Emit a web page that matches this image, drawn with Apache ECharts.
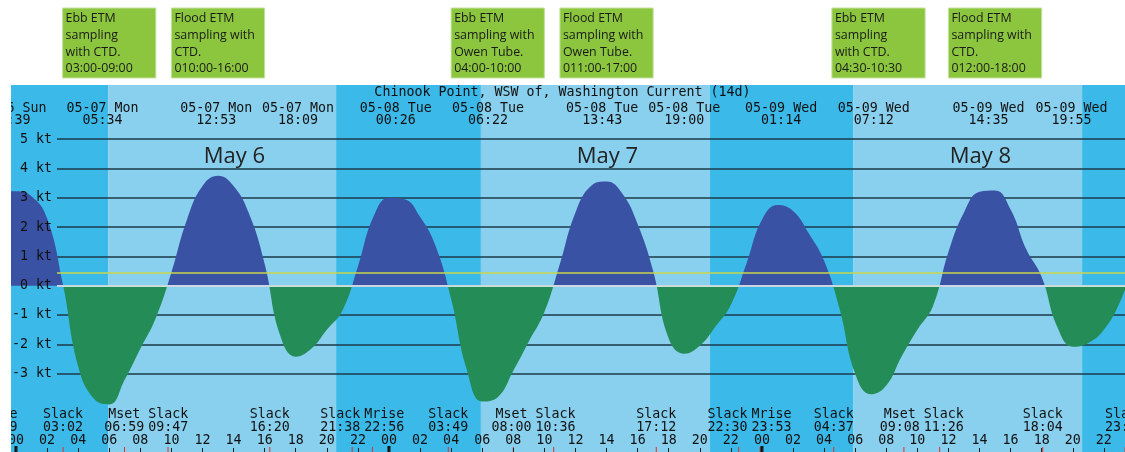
<!DOCTYPE html>
<html style="height: 100%">
<head>
<meta charset="utf-8">
</head>
<body style="height: 100%; margin: 0; background: #fff">
<div id="container" style="width: 1125px; height: 452px"></div>
<script type="text/javascript" src="https://cdn.jsdelivr.net/npm/echarts@6/dist/echarts.min.js"></script>
<script type="text/javascript">
// current speed read hourly, from 05-06 23:00 (hour -1) to 05-10 00:00 (hour 72)
var FLOW_START_HOUR = -1;
var flowKnots = [3.2,
  3.22, 3.05, 2.3, 0.1, -2.75, -3.85, -4.05, -3.2, -2.15, -1.1, 0.45, 2.25,
  3.4, 3.75, 3.4, 2.45, 0.75, -1.7, -2.42, -2.15, -1.5, -0.85, 0.65, 2.35,
  3.0, 2.95, 2.35, 1.35, -0.45, -2.85, -3.95, -3.8, -2.9, -1.9, -0.9, 0.75,
  2.5, 3.4, 3.55, 3.15, 2.1, 0.5, -1.8, -2.32, -2.05, -1.4, -0.65, 0.75,
  2.25, 2.75, 2.55, 1.8, 0.85, -0.8, -3.0, -3.7, -3.4, -2.4, -1.5, -0.7,
  1.15, 2.5, 3.2, 3.25, 2.6, 1.25, 0.3, -1.4, -2.08, -1.95, -1.5, -0.6,
  0.8];

var maxDates = ['05-06 Sun', '05-07 Mon', '05-07 Mon', '05-07 Mon', '05-08 Tue', '05-08 Tue',
  '05-08 Tue', '05-08 Tue', '05-09 Wed', '05-09 Wed', '05-09 Wed', '05-09 Wed'];
var maxTimes = ['23:39', '05:34', '12:53', '18:09', '00:26', '06:22',
  '13:43', '19:00', '01:14', '07:12', '14:35', '19:55'];

var eventDays = [-1, -1, 0, 0, 0, 0, 0, 0, 1, 1, 1, 1, 1, 1, 2, 2, 2, 2, 2];
var eventNames = ['Slack', 'Mrise', 'Slack', 'Mset', 'Slack', 'Slack', 'Slack', 'Mrise',
  'Slack', 'Mset', 'Slack', 'Slack', 'Slack', 'Mrise', 'Slack', 'Mset', 'Slack', 'Slack', 'Slack'];
var eventTimes = ['20:48', '21:59', '03:02', '06:59', '09:47', '16:20', '21:38', '22:56',
  '03:49', '08:00', '10:36', '17:12', '22:30', '23:53', '04:37', '09:08', '11:26', '18:04', '23:22'];

var sunriseTimes = ['05:56', '05:55', '05:52'];
var sunsetTimes = ['20:36', '20:39', '20:36'];
var dayTitles = ['May 6', 'May 7', 'May 8'];

var boxDays = [0, 0, 1, 1, 2, 2];
var boxStarts = ['03:00', '10:00', '04:00', '11:00', '04:30', '12:00'];
var boxEnds = ['09:00', '16:00', '10:00', '17:00', '10:30', '18:00'];
var boxTexts = [
  'Ebb ETM\nsampling\nwith CTD.\n03:00-09:00',
  'Flood ETM\nsampling with\nCTD.\n010:00-16:00',
  'Ebb ETM\nsampling with\nOwen Tube.\n04:00-10:00',
  'Flood ETM\nsampling with\nOwen Tube.\n011:00-17:00',
  'Ebb ETM\nsampling\nwith CTD.\n04:30-10:30',
  'Flood ETM\nsampling with\nCTD.\n012:00-18:00'
];

var hourTicks = [];
for (var h = 0; h <= 70; h += 2) hourTicks.push(h);

var X_MIN = -0.32, X_MAX = 71.36;
var MONO = '"DejaVu Sans Mono", monospace';
var DARK = '#3bb9e9', LIGHT = '#88d0ee';

function hourOf(day, hhmm) {
  var p = hhmm.split(':');
  return day * 24 + (+p[0]) + (+p[1]) / 60;
}
function pad2(n) { return (n < 10 ? '0' : '') + n; }

// night / day bands
var bands = [];
var prev = X_MIN;
for (var d = 0; d < sunriseTimes.length; d++) {
  var rise = hourOf(d, sunriseTimes[d]);
  var set = hourOf(d, sunsetTimes[d]);
  bands.push([prev, rise, 0]);
  bands.push([rise, set, 1]);
  prev = set;
}
bands.push([prev, X_MAX, 0]);

var flowData = flowKnots.map(function (v, i) { return [FLOW_START_HOUR + i, v]; });
var maxData = maxTimes.map(function (t, i) {
  var day = parseInt(maxDates[i].slice(3, 5), 10) - 7;
  return [hourOf(day, t), 0, i];
});
var eventHours = eventTimes.map(function (t, i) { return hourOf(eventDays[i], t); });
var eventData = eventHours.map(function (t, i) { return [t, 0, i]; });
var titleData = dayTitles.map(function (s, i) { return [i * 24 + 14.05, 0, i]; });
var boxData = boxStarts.map(function (s, i) {
  return [hourOf(boxDays[i], s), hourOf(boxDays[i], boxEnds[i]), i];
});

var dom = document.getElementById('container');
var myChart = echarts.init(dom);

var option = {
  animation: false,
  title: {
    text: 'Chinook Point, WSW of, Washington Current (14d)',
    left: 'center',
    top: 86.5,
    padding: 0,
    textStyle: { fontFamily: MONO, fontSize: 13.3, fontWeight: 'normal', color: '#111' }
  },
  grid: [
    { left: 11, right: 0, top: 85, bottom: 0 },
    { left: 57, right: 0, top: 139.05, bottom: 78.3 }
  ],
  xAxis: [
    {
      gridIndex: 0, type: 'value', min: X_MIN, max: X_MAX, z: 6,
      axisLine: { show: false, onZero: false },
      splitLine: { show: false },
      axisTick: { inside: true, length: 4, customValues: hourTicks, lineStyle: { color: '#222' } },
      axisLabel: {
        inside: true, margin: 5, customValues: hourTicks,
        fontFamily: MONO, fontSize: 13.3, color: '#111',
        formatter: function (v) { return pad2(Math.round(v) % 24); }
      }
    },
    { gridIndex: 1, type: 'value', min: 0, max: 1, show: false }
  ],
  yAxis: [
    { gridIndex: 0, type: 'value', min: -5.67, max: 6.843, show: false },
    {
      gridIndex: 1, type: 'value', position: 'left', min: -3, max: 5, interval: 1, z: 1,
      axisLine: { show: false }, axisTick: { show: false }, axisLabel: { show: false },
      splitLine: { show: true, lineStyle: { color: '#1d3a48', width: 1.5 } }
    },
    {
      gridIndex: 1, type: 'value', position: 'left', offset: 0, min: -3, max: 5, interval: 1, z: 6,
      axisLine: { show: false }, axisTick: { show: false }, splitLine: { show: false },
      axisLabel: { margin: 5, formatter: '{value} kt', fontFamily: MONO, fontSize: 13.3, color: '#111' }
    }
  ],
  visualMap: {
    show: false, type: 'piecewise', seriesIndex: 1, dimension: 1,
    pieces: [
      { lt: 0, color: '#248c57' },
      { gte: 0, lte: 20, color: '#3a52a3' },
      { gt: 20, color: '#3a52a3' }
    ]
  },
  graphic: [
    { type: 'rect', left: 0, top: 0, z: 100, shape: { width: 11, height: 452 }, style: { fill: '#fff' } }
  ],
  series: [
    {
      // day / night background
      type: 'custom', xAxisIndex: 0, yAxisIndex: 0, z: 0, silent: true, clip: true,
      encode: { x: [0, 1], y: 2 },
      data: bands,
      renderItem: function (params, api) {
        var cs = params.coordSys;
        var x0 = api.coord([api.value(0), 0])[0];
        var x1 = api.coord([api.value(1), 0])[0];
        return {
          type: 'rect',
          shape: { x: x0, y: cs.y, width: x1 - x0, height: cs.height },
          style: { fill: api.value(2) ? LIGHT : DARK }
        };
      }
    },
    {
      name: 'Current', type: 'line', xAxisIndex: 0, yAxisIndex: 0, z: 3,
      data: flowData, smooth: 0.45, showSymbol: false, symbol: 'none',
      lineStyle: { opacity: 0 },
      areaStyle: { opacity: 1, origin: 'auto' }
    },
    {
      // slack line and threshold line
      type: 'line', xAxisIndex: 1, yAxisIndex: 1, z: 4, data: [], silent: true,
      markLine: {
        symbol: 'none', silent: true, label: { show: false },
        data: [
          { yAxis: 0, lineStyle: { color: '#ffffff', width: 1.5, type: 'solid' } },
          { yAxis: 0.45, lineStyle: { color: '#c8d64a', width: 1.5, type: 'solid' } }
        ]
      }
    },
    {
      // max current labels
      type: 'custom', xAxisIndex: 0, yAxisIndex: 0, z: 5, silent: true, clip: true,
      encode: { x: 0, y: 1 },
      data: maxData,
      renderItem: function (params, api) {
        var i = api.value(2);
        var x = api.coord([api.value(0), 0])[0];
        return {
          type: 'text', x: x, y: 114.5,
          style: {
            text: maxDates[i] + '\n' + maxTimes[i], font: '13.3px ' + MONO, fill: '#111',
            textAlign: 'center', textVerticalAlign: 'middle', lineHeight: 12.5
          }
        };
      }
    },
    {
      // slack / moon labels
      type: 'custom', xAxisIndex: 0, yAxisIndex: 0, z: 5, silent: true, clip: true,
      encode: { x: 0, y: 1 },
      data: eventData,
      renderItem: function (params, api) {
        var i = api.value(2);
        var x = api.coord([eventHours[i], 0])[0];
        var shift = 0, gap = 44;
        if (i > 0) {
          var dl = x - api.coord([eventHours[i - 1], 0])[0];
          if (dl < gap) shift += (gap - dl) / 2;
        }
        if (i < eventHours.length - 1) {
          var dr = api.coord([eventHours[i + 1], 0])[0] - x;
          if (dr < gap) shift -= (gap - dr) / 2;
        }
        return {
          type: 'group',
          children: [
            {
              type: 'text', x: x + shift, y: 421,
              style: {
                text: eventNames[i] + '\n' + eventTimes[i], font: '13.3px ' + MONO, fill: '#111',
                textAlign: 'center', textVerticalAlign: 'middle', lineHeight: 13
              }
            },
            {
              type: 'line',
              shape: { x1: x, y1: 447, x2: x, y2: 452 },
              style: { stroke: '#e0302a', lineWidth: 1 }
            }
          ]
        };
      }
    },
    {
      // day names and midnight marks
      type: 'custom', xAxisIndex: 0, yAxisIndex: 0, z: 5, silent: true, clip: true,
      encode: { x: 0, y: 1 },
      data: titleData,
      renderItem: function (params, api) {
        var i = api.value(2);
        var x = api.coord([api.value(0), 0])[0];
        var xm = api.coord([i * 24, 0])[0];
        return {
          type: 'group',
          children: [
            {
              type: 'text', x: x, y: 157,
              style: {
                text: dayTitles[i], font: '22px "Open Sans"', fill: '#222',
                textAlign: 'center', textVerticalAlign: 'middle'
              }
            },
            {
              type: 'rect',
              shape: { x: xm - 1.5, y: 446, width: 3, height: 6 },
              style: { fill: '#111' }
            }
          ]
        };
      }
    },
    {
      // sampling boxes above the chart
      type: 'custom', xAxisIndex: 0, yAxisIndex: 0, z: 5, silent: true, clip: false,
      encode: { x: [0, 1], y: 2 },
      data: boxData,
      renderItem: function (params, api) {
        var i = api.value(2);
        var x0 = api.coord([api.value(0), 0])[0];
        var x1 = api.coord([api.value(1), 0])[0];
        return {
          type: 'group',
          children: [
            {
              type: 'rect',
              shape: { x: x0, y: 8, width: x1 - x0, height: 70 },
              style: { fill: '#8cc63f', stroke: '#c4e19f', lineWidth: 1 }
            },
            {
              type: 'text', x: x0 + 3, y: 10.5,
              style: {
                text: boxTexts[i], font: '12.4px "Open Sans"', fill: '#1a1a1a',
                textAlign: 'left', textVerticalAlign: 'top', lineHeight: 16.6
              }
            }
          ]
        };
      }
    }
  ]
};

myChart.setOption(option);
</script>
</body>
</html>
